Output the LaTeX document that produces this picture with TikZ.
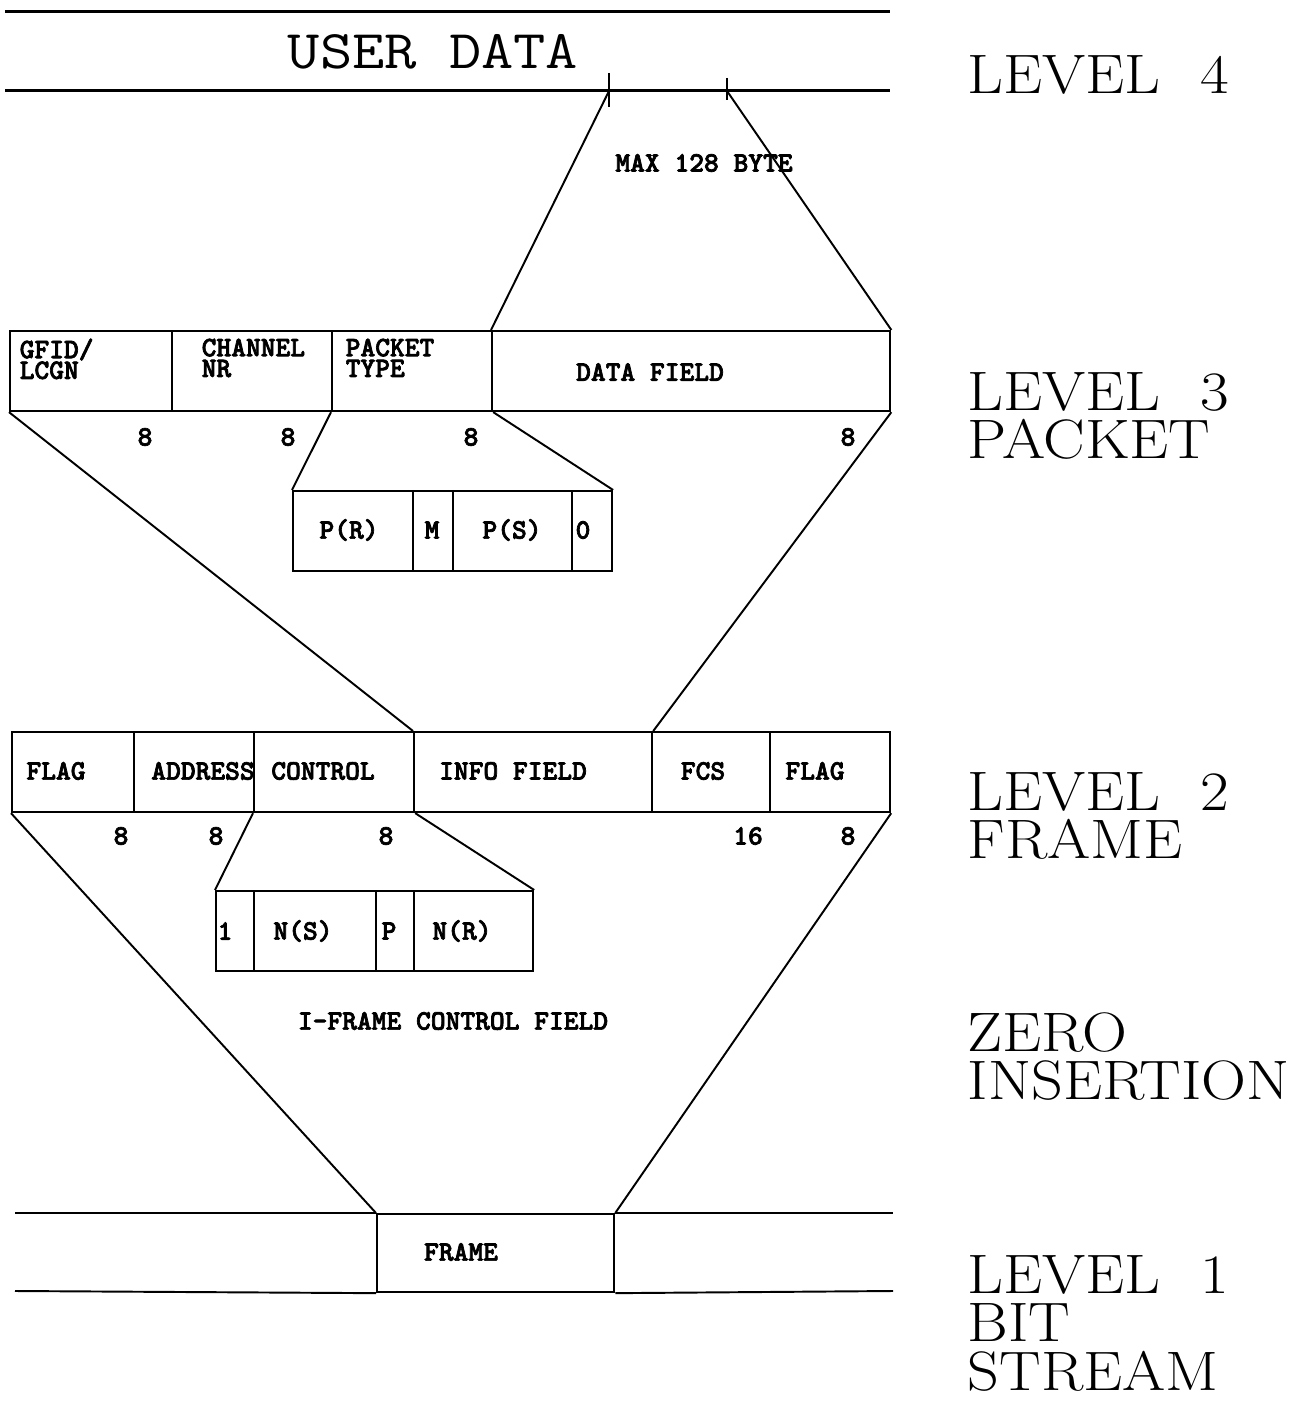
\documentclass[tikz,border=0pt]{standalone}
\usepackage{fontspec}
\newfontfamily\fldff{lmmonolt10-bold}[Extension=.otf, FakeBold=2.5]
\newcommand\fldfont{\fontsize{8pt}{5.9pt}\selectfont\fldff}
\newcommand\lvlfont{\fontsize{15.8pt}{13.7pt}\selectfont\rmfamily}
\newcommand\udfont{\fontsize{15.5pt}{16pt}\selectfont\ttfamily}
\newcommand\wide[1]{\scalebox{1.12}[1]{#1}}
\begin{document}
\begin{tikzpicture}[x=0.01cm,y=-0.01cm,
  cell/.style={draw, line width=0.6pt, inner sep=0pt, anchor=north west, minimum height=0.8cm},
  fld/.style={font=\fldfont, inner sep=0pt},
  fldtl/.style={fld, anchor=north west, align=left},
  lvl/.style={font=\lvlfont, inner sep=0pt, anchor=north west, align=left},
  link/.style={line width=0.55pt},
  rule/.style={line width=0.85pt}]
\useasboundingbox (0,0) rectangle (1308,1404);

% ---- level 4: user data band
\coordinate (udTL) at (5,12);   \coordinate (udTR) at (890,12);
\coordinate (udBL) at (5,91);   \coordinate (udBR) at (890,91);
\draw[rule] (udTL) -- (udTR);
\draw[rule] (udBL) -- (udBR);
\node[font=\udfont, inner sep=0pt] (userdata) at (433,52) {\scalebox{1.15}[1]{USER DATA}};
\coordinate (t1) at (609,91);  \coordinate (t2) at (727,91);
\draw[link] (609,73) -- (609,107);
\draw[link] (727,78) -- (727,100);
\node[fld] (maxlbl) at (704,163) {MAX 128 BYTE};

% ---- level 3: packet
\node[cell, minimum width=1.62cm] (gfid)  at (9,330)   {};
\node[cell, minimum width=1.60cm] (chan)  at (171,330) {};
\node[cell, minimum width=1.60cm] (ptype) at (331,330) {};
\node[cell, minimum width=3.98cm] (data)  at (491,330) {};
\node[fldtl] (gfidlbl)  at (19,338)  {GFID/\\LCGN};
\node[fldtl] (chanlbl)  at (201,338) {CHANNEL\\NR};
\node[fldtl] (ptypelbl) at (345,338) {PACKET\\TYPE};
\node[fld] (datalbl) at (650,372) {DATA FIELD};
\node[fld] (n31) at (145,437) {8};
\node[fld] (n32) at (288,437) {8};
\node[fld] (n33) at (471,437) {8};
\node[fld] (n34) at (848,437) {8};

\draw[link] (t1) -- (data.north west);
\draw[link] (t2) -- (data.north east);

% packet type breakdown
\node[cell, minimum width=1.20cm] (pr)   at (292,490) {};
\node[cell, minimum width=0.40cm] (mb)   at (412,490) {};
\node[cell, minimum width=1.19cm] (ps)   at (452,490) {};
\node[cell, minimum width=0.40cm] (zero) at (571,490) {};
\node[fld] (prlbl)   at (349,530) {P(R)};
\node[fld] (mlbl)    at (432,530) {M};
\node[fld] (pslbl)   at (512,530) {P(S)};
\node[fld] (zerolbl) at (583,530) {0};
\draw[link] (ptype.south west) -- (pr.north west);
\draw[link] (ptype.south east) -- (zero.north east);

% ---- level 2: frame
\node[cell, minimum width=1.22cm] (flag1) at (11,731)  {};
\node[cell, minimum width=1.20cm] (addr)  at (133,731) {};
\node[cell, minimum width=1.60cm] (ctrl)  at (253,731) {};
\node[cell, minimum width=2.38cm] (info)  at (413,731) {};
\node[cell, minimum width=1.18cm] (fcs)   at (651,731) {};
\node[cell, minimum width=1.20cm] (flag2) at (769,731) {};
\node[fld] (flag1lbl) at (56,771)  {FLAG};
\node[fld] (addrlbl)  at (203,771) {ADDRESS};
\node[fld] (ctrllbl)  at (323,771) {CONTROL};
\node[fld] (infolbl)  at (513,771) {INFO FIELD};
\node[fld] (fcslbl)   at (703,771) {FCS};
\node[fld] (flag2lbl) at (815,771) {FLAG};
\node[fld] (n21) at (121,836) {8};
\node[fld] (n22) at (216,836) {8};
\node[fld] (n23) at (386,836) {8};
\node[fld] (n24) at (748,836) {16};
\node[fld] (n25) at (848,836) {8};

\draw[link] (gfid.south west) -- (info.north west);
\draw[link] (data.south east) -- (info.north east);

% control field breakdown
\node[cell, minimum width=0.38cm] (one) at (215,890) {};
\node[cell, minimum width=1.22cm] (ns)  at (253,890) {};
\node[cell, minimum width=0.38cm] (pb)  at (375,890) {};
\node[cell, minimum width=1.19cm] (nr)  at (413,890) {};
\node[fld] (onelbl) at (225,931) {1};
\node[fld] (nslbl)  at (303,931) {N(S)};
\node[fld] (plbl)   at (389,931) {P};
\node[fld] (nrlbl)  at (462,931) {N(R)};
\draw[link] (ctrl.south west) -- (one.north west);
\draw[link] (ctrl.south east) -- (nr.north east);
\node[fld] (iframe) at (453,1021) {I-FRAME CONTROL FIELD};

% ---- level 1: bit stream
\node[cell, minimum width=2.37cm, minimum height=0.78cm] (bsframe) at (376,1213) {};
\node[fld] (bslbl) at (461,1252) {FRAME};
\coordinate (bsTL) at (15,1213);  \coordinate (bsTR) at (893,1213);
\coordinate (bsBL) at (15,1291);  \coordinate (bsBR) at (893,1291);
\draw[link] (bsTL) -- (bsframe.north west);
\draw[link] (bsframe.north east) -- (bsTR);
\draw[link] (bsBL) -- (bsframe.south west);
\draw[link] (bsframe.south east) -- (bsBR);
\draw[link] (flag1.south west) -- (bsframe.north west);
\draw[link] (flag2.south east) -- (bsframe.north east);

% ---- level captions
\node[lvl] (lv4) at (967,55)   {\wide{LEVEL\hspace{10pt}4}};
\node[lvl] (lv3) at (967,372)  {\wide{LEVEL\hspace{10pt}3}\\\wide{PACKET}};
\node[lvl] (lv2) at (967,772)  {\wide{LEVEL\hspace{10pt}2}\\\wide{FRAME}};
\node[lvl] (lvz) at (967,1012) {\wide{ZERO}\\\wide{INSERTION}};
\node[lvl] (lv1) at (967,1255) {\wide{LEVEL\hspace{10pt}1}\\\wide{BIT}\\\wide{STREAM}};
\end{tikzpicture}
\end{document}
